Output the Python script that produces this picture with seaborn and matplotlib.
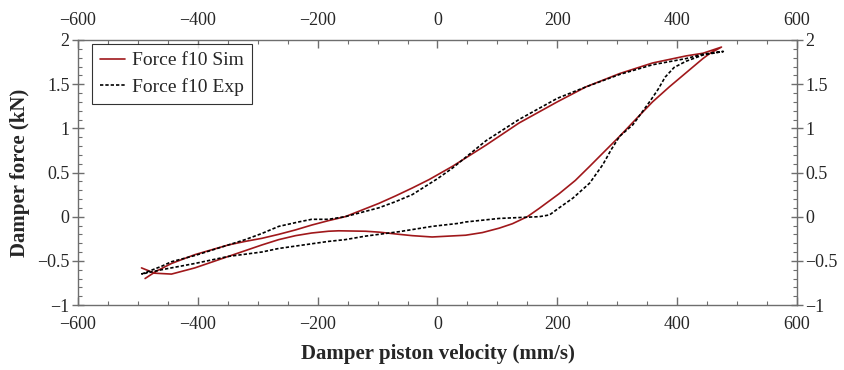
import numpy as np
import pandas as pd
import matplotlib
matplotlib.use("Agg")
import matplotlib.pyplot as plt
from matplotlib.ticker import MultipleLocator
import seaborn as sns

# ---- data ----
sim_velocity = [-488, -470, -444, -405, -377, -349, -321, -293, -265, -237, -210, -182, -154, -126, -98, -70, -42, -14, 25, 81,
                136, 200, 248, 304, 359, 415, 443, 474,
                455, 443, 415, 387, 359, 332, 304, 276, 254, 230, 203, 170, 150, 125, 103, 75, 47,
                -9, -42, -64, -98, -120, -165, -182, -210, -237, -265, -293, -321, -349, -377, -405, -444, -472, -494]
sim_force = [-0.70, -0.62, -0.53, -0.43, -0.375, -0.32, -0.28, -0.245, -0.20, -0.15, -0.095, -0.045, 0.0, 0.075, 0.15, 0.235, 0.325, 0.42, 0.57, 0.81,
             1.06, 1.30, 1.47, 1.62, 1.74, 1.82, 1.85, 1.92,
             1.85, 1.79, 1.63, 1.47, 1.30, 1.11, 0.91, 0.72, 0.57, 0.41, 0.26, 0.095, 0.0, -0.08, -0.13, -0.18, -0.21,
             -0.23, -0.215, -0.20, -0.175, -0.165, -0.16, -0.165, -0.185, -0.215, -0.26, -0.32, -0.385, -0.45, -0.515, -0.58, -0.65, -0.64, -0.58]

exp_velocity = [-494, -460, -444, -405, -377, -349, -321, -293, -265, -232, -210, -182, -154, -126, -98, -70, -42, 0, 25, 81,
                136, 200, 248, 304, 359, 415, 443, 477,
                443, 415, 395, 380, 368, 355, 340, 326, 304, 290, 276, 254, 226, 203, 187, 170, 136, 103, 47, 36,
                -9, -64, -120, -154, -182, -265, -293, -349, -405, -460, -494]
exp_force = [-0.65, -0.56, -0.51, -0.44, -0.38, -0.32, -0.26, -0.19, -0.11, -0.06, -0.03, -0.03, 0.0, 0.05, 0.10, 0.17, 0.25, 0.43, 0.55, 0.86,
             1.10, 1.34, 1.47, 1.61, 1.72, 1.79, 1.84, 1.87,
             1.83, 1.76, 1.69, 1.58, 1.44, 1.31, 1.17, 1.04, 0.91, 0.76, 0.59, 0.38, 0.21, 0.10, 0.02, 0.0, -0.01, -0.02, -0.06, -0.075,
             -0.11, -0.17, -0.22, -0.26, -0.28, -0.36, -0.40, -0.45, -0.53, -0.60, -0.65]

sim_label = "Force f10 Sim"
exp_label = "Force f10 Exp"

sim_df = pd.DataFrame({"v": sim_velocity, "F": sim_force})
exp_df = pd.DataFrame({"v": exp_velocity, "F": exp_force})

sns.set_style("white")
plt.rcParams["font.family"] = ["Liberation Serif", "DejaVu Serif"]

fig = plt.figure(figsize=(8.45, 3.7), dpi=100)
ax = fig.add_axes([78 / 845, 1 - 305 / 370, (797 - 78) / 845, (305 - 40) / 370])

red = "#A0181B"
sns.lineplot(data=sim_df, x="v", y="F", sort=False, estimator=None, ax=ax,
             color=red, linewidth=1.2, label=sim_label)
sns.lineplot(data=exp_df, x="v", y="F", sort=False, estimator=None, ax=ax,
             color="black", linewidth=1.2, linestyle=(0, (2, 1.2)), label=exp_label)

ax.set_xlim(-600, 600)
ax.set_ylim(-1, 2)
ax.xaxis.set_major_locator(MultipleLocator(200))
ax.xaxis.set_minor_locator(MultipleLocator(50))
ax.yaxis.set_major_locator(MultipleLocator(0.5))
ax.yaxis.set_minor_locator(MultipleLocator(0.1))

def fmt(val, pos):
    if abs(val - round(val)) < 1e-9:
        s = f"{int(round(val))}"
    else:
        s = f"{val:g}"
    return s.replace("-", "\u2212")

ax.xaxis.set_major_formatter(plt.FuncFormatter(fmt))
ax.yaxis.set_major_formatter(plt.FuncFormatter(fmt))

gray = "#6e6e6e"
for sp in ax.spines.values():
    sp.set_visible(True)
    sp.set_color(gray)
    sp.set_linewidth(1.0)

ax.tick_params(axis="x", which="major", direction="in", length=6, width=1, color=gray,
               top=True, bottom=True, labeltop=True, labelbottom=True, labelsize=13, pad=8)
ax.tick_params(axis="x", which="minor", direction="in", length=3, width=0.8, color=gray, top=True, bottom=True)
ax.tick_params(axis="y", which="major", direction="inout", length=8, width=1, color=gray,
               left=True, right=True, labelleft=True, labelright=True, labelsize=13, pad=2)
ax.tick_params(axis="y", which="minor", direction="in", length=3, width=0.8, color=gray, left=True, right=True)

ax.set_xlabel("Damper piston velocity (mm/s)", fontsize=15, fontweight="bold", labelpad=8)
ax.set_ylabel("Damper force (kN)", fontsize=15, fontweight="bold", labelpad=5)

leg = ax.legend(loc="upper left", bbox_to_anchor=((92 - 78) / 719, 1 - 4 / 265), borderaxespad=0,
                fontsize=14, frameon=True, fancybox=False, handlelength=1.3,
                handletextpad=0.35, borderpad=0.4, labelspacing=0.45)
leg.get_frame().set_edgecolor("black")
leg.get_frame().set_linewidth(0.8)

fig.savefig("out.png", dpi=100)
